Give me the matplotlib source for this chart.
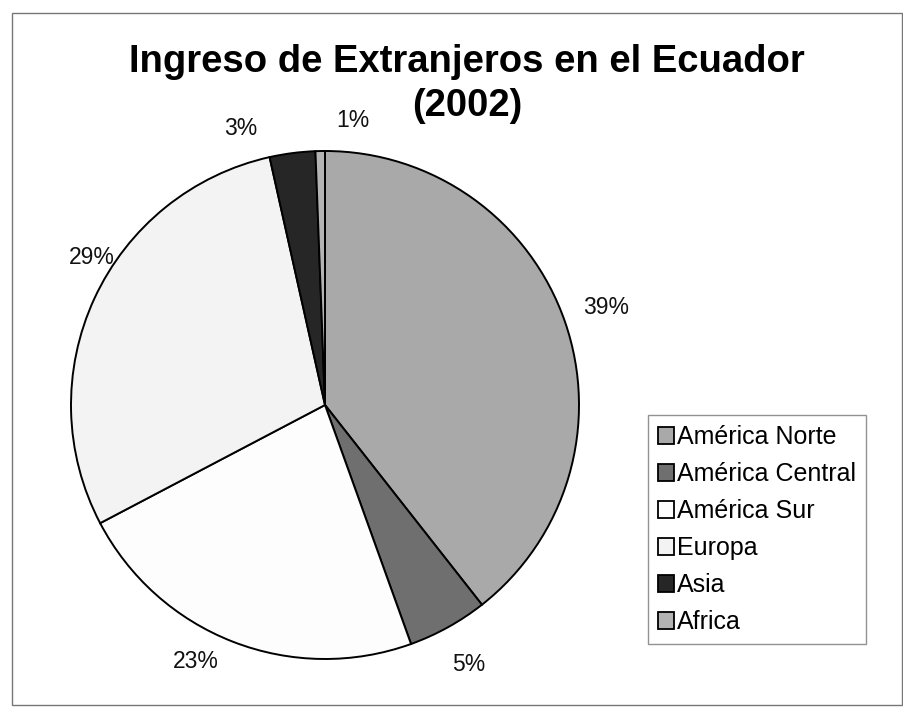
import numpy as np
import matplotlib.pyplot as plt
from matplotlib.patches import Rectangle

plt.rcParams['font.family'] = ['Liberation Sans', 'DejaVu Sans']

# Data (percent of foreign arrivals, 2002)
regions = ["América Norte", "América Central", "América Sur", "Europa", "Asia", "Africa"]
shares = [39.4, 5.1, 22.8, 29.2, 2.9, 0.6]
colors = ["#a9a9a9", "#6f6f6f", "#fdfdfd", "#f3f3f3", "#262626", "#b4b4b4"]

title_lines = ["Ingreso de Extranjeros en el Ecuador", "(2002)"]

fig = plt.figure(figsize=(9.04, 7.19), dpi=100)
fig.patch.set_facecolor("white")

# outer chart frame
fig.patches.append(Rectangle((12 / 904, 14 / 719), 890 / 904, 692 / 719,
                             transform=fig.transFigure, fill=False,
                             edgecolor="#777777", linewidth=1.0))

# pie area: centre ~ (325, 405) px, radius ~ 254 px
cx, cy, r = 325, 405, 254
ax = fig.add_axes([(cx - r) / 904, (719 - cy - r) / 719, 2 * r / 904, 2 * r / 719])

wedges, texts, autotexts = ax.pie(
    shares, colors=colors, startangle=90, counterclock=False,
    autopct="%.0f%%", pctdistance=1.17,
    wedgeprops=dict(edgecolor="black", linewidth=1.4),
    textprops=dict(fontsize=16.5, color="#111111"),
)

# Excel placed some labels closer / nudged the small ones apart
autotexts[2].set_position((-0.51, -1.01))
autotexts[3].set_position((-0.92, 0.58))
autotexts[4].set_position((-0.33, 1.09))
autotexts[5].set_position((0.11, 1.12))

ax.set_xlim(-1, 1)
ax.set_ylim(-1, 1)
ax.set_aspect("equal")
ax.axis("off")

# two-line title, one text per line
fig.text(467 / 904, 1 - 62 / 719, title_lines[0], ha="center", va="center",
         fontsize=27.5, fontweight="bold")
fig.text(467 / 904, 1 - 106 / 719, title_lines[1], ha="center", va="center",
         fontsize=27.5, fontweight="bold")

leg = fig.legend(wedges, regions, loc="upper left",
                 bbox_to_anchor=(648 / 904, 1 - 415 / 719),
                 fontsize=18, frameon=True, fancybox=False,
                 handlelength=0.65, handleheight=0.65, handletextpad=0.1,
                 labelspacing=0.52, borderpad=0.4, borderaxespad=0)
leg.get_frame().set_edgecolor("#777777")
leg.get_frame().set_linewidth(1.0)
for h in leg.legend_handles:
    h.set_edgecolor("black")
    h.set_linewidth(1.3)

fig.savefig("out.png", dpi=100)
